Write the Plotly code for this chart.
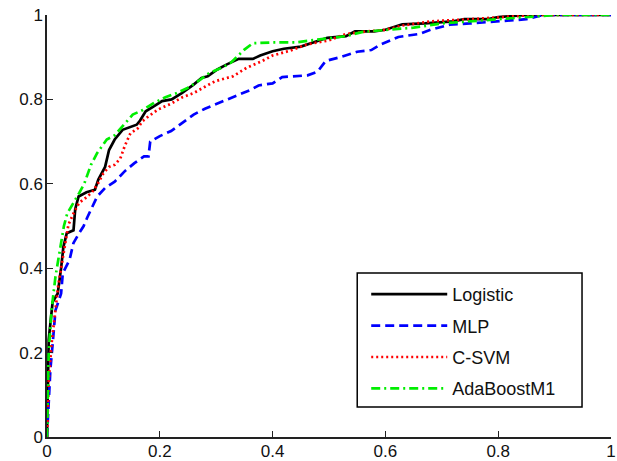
import plotly.graph_objects as go

series_names = ["Logistic", "MLP", "C-SVM", "AdaBoostM1"]

logistic_fpr = [0, 0.003, 0.01, 0.019, 0.025, 0.029, 0.035, 0.047, 0.05, 0.056, 0.07, 0.085, 0.091, 0.103, 0.11, 0.12, 0.134, 0.159, 0.165, 0.175, 0.19, 0.204, 0.221, 0.239, 0.26, 0.274, 0.285, 0.302, 0.319, 0.34, 0.365, 0.378, 0.4, 0.42, 0.45, 0.476, 0.497, 0.53, 0.546, 0.58, 0.6, 0.63, 0.67, 0.72, 0.74, 0.78, 0.8, 0.85, 1.0]
logistic_tpr = [0, 0.23, 0.32, 0.34, 0.40, 0.45, 0.483, 0.49, 0.54, 0.57, 0.58, 0.586, 0.61, 0.64, 0.68, 0.705, 0.728, 0.74, 0.75, 0.772, 0.784, 0.796, 0.80, 0.815, 0.835, 0.851, 0.855, 0.871, 0.883, 0.896, 0.896, 0.904, 0.914, 0.92, 0.925, 0.936, 0.946, 0.95, 0.961, 0.961, 0.965, 0.978, 0.98, 0.985, 0.99, 0.99, 0.995, 1.0, 1.0]

mlp_fpr = [0, 0.003, 0.006, 0.01, 0.015, 0.025, 0.028, 0.04, 0.047, 0.057, 0.065, 0.071, 0.08, 0.089, 0.103, 0.12, 0.138, 0.155, 0.172, 0.18, 0.183, 0.2, 0.22, 0.239, 0.26, 0.28, 0.298, 0.32, 0.337, 0.36, 0.375, 0.4, 0.417, 0.462, 0.48, 0.494, 0.52, 0.55, 0.575, 0.591, 0.623, 0.66, 0.68, 0.714, 0.75, 0.8, 0.85, 0.88, 1.0]
mlp_tpr = [0, 0.10, 0.16, 0.22, 0.30, 0.34, 0.388, 0.42, 0.46, 0.483, 0.50, 0.519, 0.546, 0.57, 0.59, 0.605, 0.63, 0.649, 0.665, 0.665, 0.70, 0.713, 0.725, 0.744, 0.764, 0.778, 0.788, 0.80, 0.811, 0.822, 0.833, 0.838, 0.853, 0.857, 0.866, 0.891, 0.90, 0.913, 0.917, 0.93, 0.948, 0.955, 0.965, 0.977, 0.98, 0.985, 0.99, 1.0, 1.0]

csvm_fpr = [0, 0.003, 0.008, 0.015, 0.02, 0.025, 0.03, 0.038, 0.047, 0.057, 0.068, 0.08, 0.09, 0.1, 0.11, 0.12, 0.13, 0.138, 0.148, 0.16, 0.169, 0.18, 0.197, 0.22, 0.24, 0.26, 0.28, 0.298, 0.33, 0.354, 0.38, 0.4, 0.43, 0.46, 0.5, 0.53, 0.56, 0.6, 0.63, 0.68, 0.75, 0.8, 0.86, 1.0]
csvm_tpr = [0, 0.13, 0.22, 0.30, 0.36, 0.40, 0.44, 0.503, 0.53, 0.555, 0.566, 0.58, 0.60, 0.625, 0.64, 0.645, 0.66, 0.69, 0.72, 0.73, 0.748, 0.76, 0.776, 0.79, 0.805, 0.815, 0.83, 0.843, 0.855, 0.875, 0.89, 0.904, 0.915, 0.93, 0.94, 0.955, 0.96, 0.965, 0.975, 0.985, 0.99, 0.995, 1.0, 1.0]

ada_fpr = [0, 0.003, 0.008, 0.015, 0.02, 0.025, 0.03, 0.036, 0.047, 0.057, 0.066, 0.071, 0.078, 0.089, 0.098, 0.106, 0.12, 0.13, 0.14, 0.152, 0.17, 0.19, 0.21, 0.23, 0.249, 0.27, 0.288, 0.31, 0.326, 0.34, 0.35, 0.365, 0.4, 0.44, 0.47, 0.5, 0.53, 0.56, 0.6, 0.65, 0.7, 0.75, 0.8, 0.85, 0.9, 1.0]
ada_tpr = [0, 0.20, 0.30, 0.38, 0.42, 0.46, 0.50, 0.53, 0.554, 0.578, 0.60, 0.62, 0.645, 0.673, 0.69, 0.705, 0.715, 0.73, 0.745, 0.764, 0.775, 0.792, 0.805, 0.815, 0.827, 0.845, 0.863, 0.875, 0.887, 0.905, 0.918, 0.933, 0.935, 0.935, 0.94, 0.945, 0.95, 0.96, 0.965, 0.97, 0.98, 0.985, 0.99, 0.995, 1.0, 1.0]

x_ticks = [0, 0.2, 0.4, 0.6, 0.8, 1]
x_tick_labels = ["0", "0.2", "0.4", "0.6", "0.8", "1"]
y_ticks = [0, 0.2, 0.4, 0.6, 0.8, 1]
y_tick_labels = ["0", "0.2", "0.4", "0.6", "0.8", "1"]

styles = [
    dict(color="#000000", width=2.7, dash="solid"),
    dict(color="#0000ff", width=2.7, dash="9px,5px"),
    dict(color="#ff0000", width=2.7, dash="2px,3px"),
    dict(color="#00ee00", width=2.7, dash="9px,4px,2px,4px"),
]
data = [(logistic_fpr, logistic_tpr), (mlp_fpr, mlp_tpr), (csvm_fpr, csvm_tpr), (ada_fpr, ada_tpr)]

fig = go.Figure()
for name, (xs, ys), st in zip(series_names, data, styles):
    fig.add_trace(go.Scatter(x=xs, y=ys, mode="lines", name=name, line=st,
                             legendgroup=name, cliponaxis=False))

font = dict(family="Liberation Sans, Arial, sans-serif", size=17, color="#111111")
legend_font = dict(family="Liberation Sans, Arial, sans-serif", size=18, color="#111111")
axis_common = dict(showgrid=False, zeroline=False, showline=True, linecolor="#222222",
                   linewidth=1.5, ticks="inside", ticklen=6, tickwidth=1.2,
                   tickcolor="#222222", tickfont=font, mirror=False, automargin=False,
                   ticklabeloverflow="allow")
fig.update_xaxes(range=[0, 1], tickvals=x_ticks, ticktext=x_tick_labels,
                 ticklabelstandoff=-2, **axis_common)
fig.update_yaxes(range=[0, 1], tickvals=y_ticks, ticktext=y_tick_labels,
                 ticklabelstandoff=-1, **axis_common)

L, R, T, B = 46.5, 611, 15, 437
W, H = 617, 461
pw, ph = R - L, B - T

fig.update_layout(
    width=W, height=H,
    margin=dict(l=L, r=W - R, t=T, b=H - B, autoexpand=False),
    paper_bgcolor="white", plot_bgcolor="white",
    font=font,
    legend=dict(x=(366 - L) / pw, y=(B - 276) / ph, xanchor="left", yanchor="top",
                borderwidth=0, bgcolor="rgba(0,0,0,0)",
                font=legend_font, itemwidth=76, tracegroupgap=5),
    shapes=[dict(type="rect", xref="paper", yref="paper",
                 x0=(357 - L) / pw, x1=(582 - L) / pw,
                 y0=(B - 407) / ph, y1=(B - 273) / ph,
                 line=dict(color="#000000", width=1.5), fillcolor="white", layer="above")],
)

# remove the page's default 8px body margin so the figure sits at (0, 0)
fig.write_html("out.html", config={"displayModeBar": False},
               post_script="document.body.style.margin='0';document.body.style.overflow='hidden';")
